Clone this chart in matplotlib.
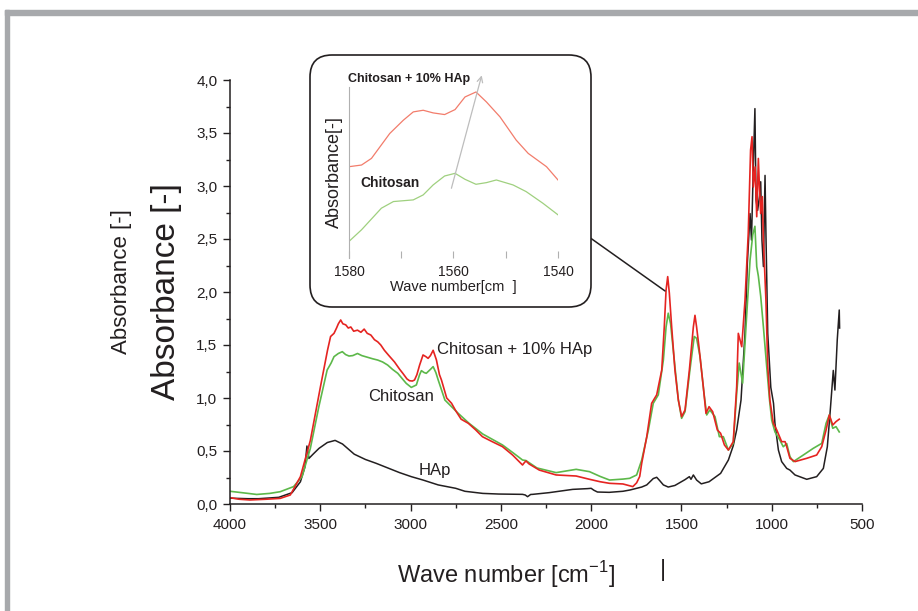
import matplotlib
matplotlib.use("Agg")
import matplotlib.pyplot as plt
from matplotlib.patches import FancyBboxPatch, Rectangle

plt.rcParams['font.family'] = ['Liberation Sans', 'DejaVu Sans']

#spectra (wave number in cm-1, absorbance)
hap_wn = [4000, 3900, 3842, 3730, 3656, 3610, 3585, 3574, 3563, 3540, 3507, 3461, 3418, 3377,
          3312, 3250, 3191, 3061, 2996, 2931, 2847, 2750, 2699, 2600, 2512, 2380, 2365, 2352,
          2335, 2324, 2233, 2102, 2020, 2000, 1985, 1965, 1900, 1824, 1785, 1720, 1692, 1656,
          1637, 1620, 1600, 1573, 1536, 1480, 1456, 1447, 1434, 1416, 1390, 1347, 1283, 1240,
          1213, 1194, 1170, 1148, 1135, 1120, 1112, 1102, 1093, 1087, 1078, 1068, 1061, 1054,
          1046, 1037, 1032, 1022, 1005, 990, 982, 963, 945, 917, 899, 871, 806, 751, 714, 692,
          677, 659, 650, 637, 626, 624]
hap_abs = [0.055, 0.05, 0.05, 0.063, 0.107, 0.21, 0.35, 0.547, 0.43, 0.47, 0.525, 0.58, 0.60, 0.566,
           0.47, 0.42, 0.384, 0.296, 0.258, 0.226, 0.18, 0.148, 0.12, 0.10, 0.094, 0.091, 0.085, 0.069,
           0.09, 0.091, 0.107, 0.138, 0.145, 0.148, 0.13, 0.113, 0.11, 0.12, 0.132, 0.16, 0.18, 0.24,
           0.252, 0.22, 0.18, 0.16, 0.175, 0.23, 0.258, 0.233, 0.274, 0.226, 0.19, 0.21, 0.289, 0.415,
           0.55, 0.70, 0.98, 1.61, 2.27, 2.74, 2.49, 3.18, 3.73, 2.87, 2.77, 2.90, 3.04, 2.49,
           2.24, 3.10, 2.55, 1.61, 1.10, 0.95, 0.76, 0.509, 0.40, 0.336, 0.32, 0.274, 0.233, 0.258, 0.336, 0.54,
           0.855, 1.26, 1.075, 1.55, 1.83, 1.66]

comp_wn = [4000, 3950, 3890, 3800, 3722, 3666, 3610, 3555, 3499, 3460, 3443, 3424, 3410, 3400,
           3387, 3375, 3359, 3345, 3331, 3315, 3294, 3275, 3257, 3240, 3220, 3200, 3182, 3165,
           3145, 3120, 3089, 3060, 3043, 3020, 3006, 2990, 2978, 2965, 2950, 2931, 2915, 2903,
           2890, 2875, 2857, 2840, 2829, 2800, 2773, 2750, 2720, 2680, 2640, 2602, 2550, 2491,
           2435, 2380, 2370, 2361, 2343, 2287, 2194, 2083, 2009, 1950, 1898, 1824, 1769, 1748,
           1731, 1720, 1692, 1665, 1637, 1609, 1595, 1585, 1576, 1567, 1554, 1536, 1517, 1499,
           1480, 1456, 1434, 1425, 1416, 1403, 1379, 1364, 1347, 1327, 1301, 1283, 1262, 1240,
           1213, 1194, 1185, 1166, 1148, 1130, 1117, 1109, 1102, 1092, 1083, 1074, 1068, 1061,
           1052, 1046, 1032, 1022, 1010, 991, 972, 945, 926, 917, 899, 871, 806, 751, 723, 699,
           681, 662, 644, 626]
comp_abs = [0.06, 0.045, 0.038, 0.045, 0.053, 0.085, 0.258, 0.60, 1.107, 1.45, 1.58, 1.61, 1.66, 1.70,
            1.736, 1.70, 1.69, 1.66, 1.67, 1.63, 1.64, 1.62, 1.65, 1.61, 1.594, 1.55, 1.53, 1.50,
            1.45, 1.40, 1.34, 1.27, 1.233, 1.18, 1.163, 1.16, 1.17, 1.22, 1.31, 1.406, 1.39, 1.374,
            1.40, 1.45, 1.36, 1.22, 1.17, 1.00, 0.95, 0.88, 0.80, 0.761, 0.70, 0.635, 0.59, 0.541,
            0.462, 0.368, 0.39, 0.406, 0.377, 0.32, 0.274, 0.264, 0.233, 0.21, 0.195, 0.189, 0.164, 0.20,
            0.26, 0.384, 0.635, 0.95, 1.03, 1.264, 1.67, 2.02, 2.145, 1.99, 1.67, 1.264, 0.981, 0.824,
            0.887, 1.264, 1.67, 1.78, 1.67, 1.484, 1.107, 0.855, 0.918, 0.871, 0.698, 0.667, 0.557, 0.509,
            0.588, 1.107, 1.61, 1.484, 1.92, 2.55, 3.34, 3.465, 2.99, 3.18, 2.71, 3.26, 2.99, 2.74,
            2.90, 2.49, 1.92, 1.30, 0.98, 0.761, 0.698, 0.588, 0.588, 0.541, 0.431, 0.40, 0.431, 0.462, 0.541, 0.698,
            0.84, 0.745, 0.777, 0.80]

chit_wn = [4000, 3900, 3852, 3780, 3722, 3648, 3601, 3555, 3508, 3462, 3440, 3424, 3400, 3378,
           3360, 3341, 3320, 3294, 3270, 3238, 3210, 3182, 3155, 3127, 3100, 3071, 3040, 3024,
           2996, 2968, 2950, 2940, 2925, 2913, 2890, 2875, 2860, 2847, 2810, 2736, 2676, 2600,
           2491, 2430, 2380, 2361, 2300, 2194, 2083, 2009, 1950, 1898, 1824, 1787, 1748, 1720,
           1683, 1656, 1628, 1600, 1585, 1573, 1560, 1536, 1517, 1499, 1480, 1453, 1429, 1416,
           1397, 1375, 1360, 1343, 1314, 1290, 1268, 1240, 1213, 1194, 1180, 1161, 1139, 1120,
           1105, 1093, 1083, 1074, 1061, 1046, 1028, 1012, 1000, 982, 954, 936, 917, 899, 880,
           825, 770, 723, 699, 681, 662, 644, 626]
chit_abs = [0.12, 0.10, 0.09, 0.10, 0.116, 0.164, 0.258, 0.525, 0.918, 1.264, 1.33, 1.39, 1.42, 1.437,
            1.41, 1.396, 1.40, 1.42, 1.40, 1.384, 1.37, 1.358, 1.34, 1.311, 1.27, 1.233, 1.17, 1.138,
            1.10, 1.123, 1.22, 1.258, 1.24, 1.233, 1.27, 1.296, 1.24, 1.17, 0.981, 0.855, 0.761, 0.66,
            0.557, 0.48, 0.415, 0.41, 0.34, 0.296, 0.327, 0.305, 0.26, 0.226, 0.235, 0.242, 0.274, 0.415,
            0.698, 0.95, 1.03, 1.358, 1.67, 1.80, 1.70, 1.296, 0.98, 0.808, 0.871, 1.264, 1.58, 1.563,
            1.39, 1.044, 0.84, 0.887, 0.824, 0.635, 0.635, 0.509, 0.572, 1.044, 1.33, 1.14, 1.77, 2.30,
            2.54, 2.62, 2.24, 2.15, 1.96, 1.67, 1.30, 0.98, 0.79, 0.68, 0.60, 0.54, 0.57, 0.447, 0.40,
            0.462, 0.525, 0.572, 0.761, 0.84, 0.714, 0.73, 0.68]

#inset: 1580-1540 cm-1 zoom (arbitrary absorbance units)
inset_comp_wn = [1580, 1577.6, 1575.7, 1572.2, 1569.6, 1567.7, 1565.8, 1563.9, 1561.7, 1559.7,
                 1557.8, 1555.7, 1553.7, 1551.1, 1548.0, 1545.7, 1542.2, 1540]
inset_comp_abs = [0.55, 0.56, 0.60, 0.75, 0.83, 0.88, 0.89, 0.874, 0.864, 0.894,
                  0.97, 1.0, 0.94, 0.85, 0.71, 0.63, 0.55, 0.47]
inset_chit_wn = [1580, 1577.6, 1573.8, 1571.5, 1567.7, 1565.8, 1563.9, 1561.7, 1559.7, 1557.8,
                 1555.7, 1553.7, 1551.8, 1548.6, 1546.1, 1542.9, 1540]
inset_chit_abs = [0.10, 0.17, 0.30, 0.34, 0.35, 0.38, 0.44, 0.494, 0.51, 0.474,
                  0.444, 0.454, 0.47, 0.44, 0.40, 0.33, 0.26]

ink = '#231f20'
red = '#e52421'
green = '#5db84a'
black = '#231f20'

fig = plt.figure(figsize=(9.18, 6.11), dpi=100)

#grey frame (top and left edges)
fig.patches.append(Rectangle((5/918, 1 - 15/611), 1, 5/611, transform=fig.transFigure,
                             color='#a7a9ac', zorder=0))
fig.patches.append(Rectangle((5/918, 0), 4/918, 1 - 10/611, transform=fig.transFigure,
                             color='#a7a9ac', zorder=0))

ax = fig.add_axes([230/918, 107/611, 632/918, 424/611])
ax.plot(hap_wn, hap_abs, color=black, lw=1.1)
ax.plot(chit_wn, chit_abs, color=green, lw=1.2)
ax.plot(comp_wn, comp_abs, color=red, lw=1.2)
ax.set_xlim(4000, 500)
ax.set_ylim(0, 4.0)
ax.set_xticks(range(4000, 499, -500))
ax.set_xticks(range(3750, 500, -500), minor=True)
ax.set_yticks([i * 0.5 for i in range(9)])
ax.set_yticks([0.25 + i * 0.5 for i in range(8)], minor=True)
ax.set_yticklabels([f"{i * 0.5:.1f}".replace('.', ',') for i in range(9)])
for s in ['top', 'right']:
    ax.spines[s].set_visible(False)
for s in ['left', 'bottom']:
    ax.spines[s].set_color(ink)
    ax.spines[s].set_linewidth(1.1)
ax.tick_params(which='major', direction='out', length=5, width=1, colors=ink, labelsize=11, pad=4)
ax.tick_params(which='minor', direction='out', length=3, width=1, colors=ink)
ax.tick_params(axis='x', which='major', pad=5)

ax.text(2854, 1.453, "Chitosan + 10% HAp", fontsize=12, color=ink, va='center', ha='left')
ax.text(3053, 1.012, "Chitosan", fontsize=12, color=ink, va='center', ha='center')
ax.text(2865, 0.32, "HAp", fontsize=12, color=ink, va='center', ha='center')

fig.text(122/918, 1 - 282/611, "Absorbance [-]", rotation=90, fontsize=16, color=ink,
         ha='center', va='center')
fig.text(167/918, 1 - 292/611, "Absorbance [-]", rotation=90, fontsize=24, color=ink,
         ha='center', va='center')
fig.text(506/918, 1 - 575/611, r"Wave number [cm$^{\mathregular{-1}}$]", fontsize=17, color=ink,
         ha='center', va='center')
fig.text(663/918, 1 - 570/611, "|", fontsize=17, color=ink, ha='center', va='center')

#rounded inset frame
box = FancyBboxPatch((310/918, 1 - 307/611), 281/918, 252/611,
                     boxstyle="round,pad=0,rounding_size=0.024", mutation_aspect=918/611,
                     transform=fig.transFigure, facecolor='white', edgecolor=ink, lw=1.2, zorder=1)
fig.patches.append(box)

#line from inset to the 1560 peak
ax.annotate('', xy=(1591, 2.01), xycoords='data', xytext=(589/918, 1 - 237/611),
            textcoords='figure fraction',
            arrowprops=dict(arrowstyle='-', color=ink, lw=1.1, shrinkA=0, shrinkB=0))

axi = fig.add_axes([349/918, 1 - 258/611, 209/918, 171/611], zorder=2)
axi.patch.set_alpha(0)
axi.plot(inset_comp_wn, inset_comp_abs, color='#f27c6b', lw=0.9)
axi.plot(inset_chit_wn, inset_chit_abs, color='#9fd07f', lw=0.9)
axi.set_xlim(1580, 1540)
axi.set_ylim(0, 1.03)
axi.set_xticks([1580, 1560, 1540])
axi.set_xticks([1570, 1550], minor=True)
axi.set_yticks([])
for s in ['top', 'right', 'bottom']:
    axi.spines[s].set_visible(False)
axi.spines['left'].set_color('#b0b0b0')
axi.spines['left'].set_linewidth(0.8)
axi.tick_params(axis='x', which='both', direction='in', length=5, width=0.8, color='#b0b0b0',
                labelcolor=ink, labelsize=10, pad=5)
axi.set_xlabel("Wave number[cm  ]", fontsize=10.5, color=ink, labelpad=1)
axi.set_ylabel("Absorbance[-]", fontsize=13, color=ink, labelpad=4)
axi.annotate('', xy=(1554.6, 1.10), xytext=(1560.4, 0.42), annotation_clip=False,
             arrowprops=dict(arrowstyle='->', color='#bdbdbd', lw=0.9, shrinkA=0, shrinkB=0))
axi.text(1580.2, 1.08, "Chitosan + 10% HAp", fontsize=9, fontweight='bold', color=ink,
         ha='left', va='center', clip_on=False)
axi.text(1577.9, 0.45, "Chitosan", fontsize=10, fontweight='bold', color=ink,
         ha='left', va='center')

plt.savefig('out.png', dpi=100)
